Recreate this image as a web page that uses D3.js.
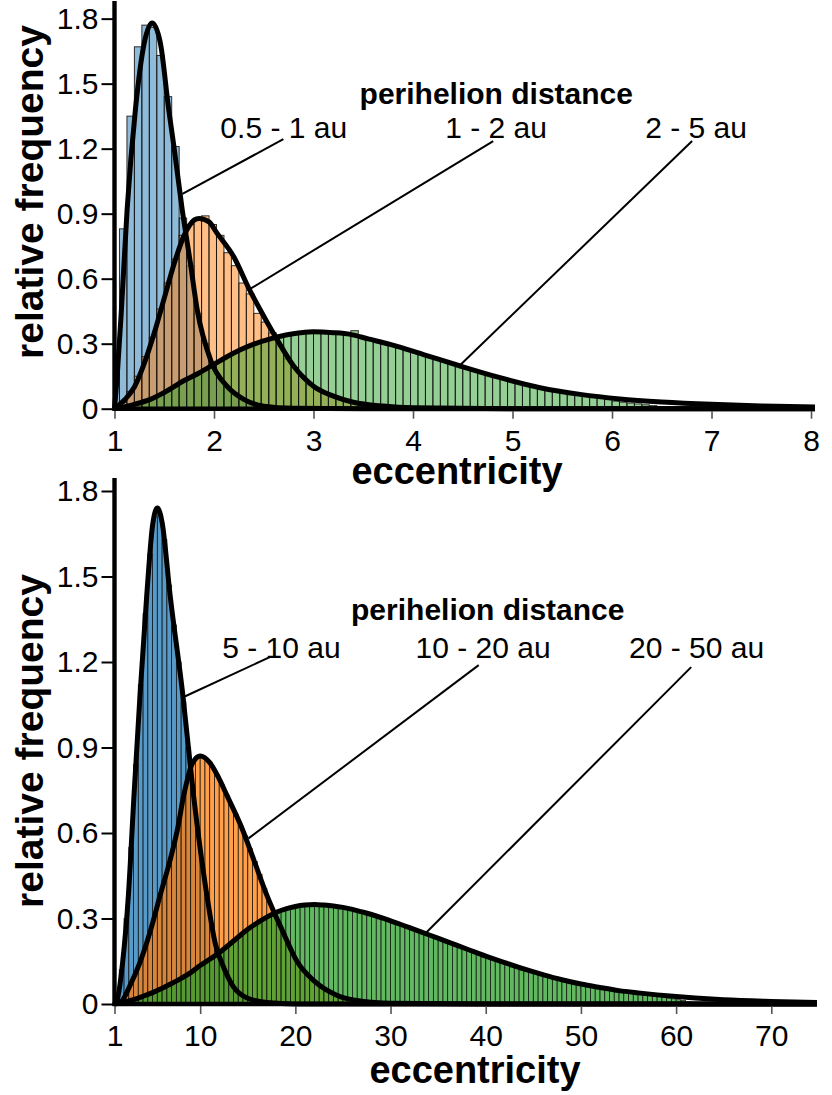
<!DOCTYPE html>
<html>
<head>
<meta charset="utf-8">
<script src="https://cdn.jsdelivr.net/npm/d3@7"></script>
<style>
body { margin: 0; background: #fff; }
text { font-family: "Liberation Sans", Arial, sans-serif; }
</style>
</head>
<body>
<div id="root"></div>
<script>
// ---- data ----
var ticksY = [0, 0.3, 0.6, 0.9, 1.2, 1.5, 1.8];
var topTicksX = [1, 2, 3, 4, 5, 6, 7, 8];
var botTicksX = [1, 10, 20, 30, 40, 50, 60, 70];

var topRanges = ["0.5 - 1 au", "1 - 2 au", "2 - 5 au"];
var botRanges = ["5 - 10 au", "10 - 20 au", "20 - 50 au"];

// top histogram: bins of 0.075 starting at 0.975
var topBinStart = 0.975, topBinWidth = 0.075;
var topBlueBins = [0.25, 0.83, 1.35, 1.67, 1.77, 1.76, 1.63, 1.44, 1.21, 0.88, 0.66, 0.44, 0.30, 0.20,
    0.14, 0.10, 0.07, 0.045, 0.03, 0.02, 0.01, 0.006];
var topOrangeBins = [0.005, 0.03, 0.08, 0.15, 0.24, 0.33, 0.46, 0.58, 0.69, 0.80, 0.85, 0.88, 0.89, 0.85,
    0.80, 0.72, 0.66, 0.58, 0.53, 0.44, 0.40, 0.35, 0.29, 0.23, 0.19, 0.15, 0.11, 0.09, 0.07, 0.055,
    0.045, 0.035, 0.028, 0.022, 0.017, 0.013, 0.01, 0.008, 0.006, 0.005];
var topGreenBins = [0.002, 0.008, 0.015, 0.025, 0.035, 0.048, 0.065, 0.085, 0.105, 0.13, 0.148, 0.165,
    0.183, 0.20, 0.222, 0.24, 0.258, 0.276, 0.29, 0.303, 0.313, 0.322, 0.33, 0.338, 0.345, 0.35, 0.352,
    0.355, 0.353, 0.351, 0.348, 0.35, 0.36, 0.332, 0.322, 0.31, 0.30, 0.292, 0.28, 0.268, 0.262, 0.252,
    0.242, 0.23, 0.22, 0.21, 0.198, 0.188, 0.177, 0.167, 0.157, 0.148, 0.138, 0.128, 0.12, 0.111, 0.103,
    0.096, 0.088, 0.081, 0.074, 0.068, 0.062, 0.057, 0.052, 0.047, 0.042, 0.035, 0.03, 0.026, 0.022,
    0.018, 0.014, 0.01, 0.006];

// bottom histogram: bins of 0.5 starting at 1
var botBinStart = 1, botBinWidth = 0.5;
var botBlueBins = [0.01, 0.12, 0.30, 0.55, 0.84, 1.12, 1.37, 1.58, 1.71, 1.72, 1.63, 1.47, 1.33, 1.20,
    1.06, 0.90, 0.75, 0.62, 0.49, 0.37, 0.28, 0.20, 0.15, 0.11, 0.075, 0.05, 0.035, 0.022, 0.014, 0.009, 0.005];
var botOrangeBins = [0.002, 0.01, 0.04, 0.07, 0.11, 0.15, 0.20, 0.255, 0.31, 0.375, 0.435, 0.495, 0.555,
    0.635, 0.725, 0.80, 0.845, 0.865, 0.87, 0.855, 0.835, 0.805, 0.77, 0.735, 0.70, 0.665, 0.625, 0.59,
    0.545, 0.50, 0.455, 0.405, 0.36, 0.32, 0.285, 0.25, 0.21, 0.175, 0.145, 0.125, 0.105, 0.088, 0.075,
    0.062, 0.05, 0.04, 0.032, 0.026, 0.021, 0.017, 0.013, 0.01, 0.008, 0.006, 0.004, 0.003];
var botGreenBins = [0.002, 0.004, 0.008, 0.013, 0.018, 0.024, 0.030, 0.037, 0.044, 0.051, 0.059, 0.068,
    0.076, 0.085, 0.095, 0.105, 0.116, 0.129, 0.14, 0.151, 0.163, 0.174, 0.187, 0.20, 0.214, 0.228, 0.242,
    0.255, 0.268, 0.279, 0.29, 0.30, 0.309, 0.318, 0.325, 0.331, 0.336, 0.34, 0.343, 0.346, 0.348, 0.349,
    0.349, 0.348, 0.346, 0.345, 0.343, 0.34, 0.337, 0.334, 0.33, 0.325, 0.321, 0.316, 0.311, 0.306, 0.30,
    0.295, 0.289, 0.283, 0.277, 0.271, 0.265, 0.259, 0.253, 0.246, 0.24, 0.234, 0.228, 0.221, 0.215, 0.208,
    0.202, 0.196, 0.19, 0.183, 0.177, 0.171, 0.165, 0.159, 0.153, 0.148, 0.142, 0.137, 0.131, 0.126, 0.12,
    0.115, 0.11, 0.105, 0.10, 0.095, 0.091, 0.087, 0.083, 0.079, 0.075, 0.072, 0.068, 0.065, 0.062, 0.059,
    0.056, 0.053, 0.05, 0.048, 0.045, 0.043, 0.04, 0.038, 0.036, 0.033, 0.031, 0.029, 0.026, 0.024, 0.021,
    0.018, 0.015, 0.012, 0.008, 0.005];

// fitted curves [eccentricity, relative frequency]
var topBlueCurve = [[1, 0], [1.027, 0.15], [1.07, 0.46], [1.127, 0.92], [1.21, 1.38], [1.3, 1.69],
    [1.378, 1.78], [1.46, 1.69], [1.545, 1.38], [1.6, 1.2], [1.68, 0.92], [1.76, 0.68], [1.83, 0.46],
    [1.97, 0.22], [2.13, 0.104], [2.3, 0.043], [2.5, 0.012], [2.8, 0.002], [3.5, 0], [8.04, 0]];
var topOrangeCurve = [[1, 0], [1.1, 0.04], [1.2, 0.1], [1.3, 0.21], [1.4, 0.35], [1.5, 0.51], [1.6, 0.67],
    [1.7, 0.8], [1.8, 0.87], [1.85, 0.878], [1.95, 0.862], [2.03, 0.81], [2.2, 0.7], [2.35, 0.555],
    [2.5, 0.427], [2.633, 0.32], [2.8, 0.197], [3, 0.104], [3.2, 0.058], [3.4, 0.03], [3.7, 0.012],
    [4, 0.004], [5, 0], [8.04, 0]];
var topGreenCurve = [[1, 0], [1.2, 0.02], [1.36, 0.043], [1.5, 0.075], [1.7, 0.13], [1.85, 0.165],
    [2, 0.205], [2.13, 0.24], [2.265, 0.272], [2.4, 0.298], [2.566, 0.322], [2.867, 0.35], [3, 0.355],
    [3.2, 0.351], [3.37, 0.343], [3.55, 0.322], [3.77, 0.297], [4.105, 0.25], [4.474, 0.197],
    [4.875, 0.143], [5.277, 0.097], [5.68, 0.066], [6.08, 0.045], [6.5, 0.031], [7, 0.02], [7.5, 0.013],
    [8.04, 0.008]];

var botBlueCurve = [[1, 0], [1.2, 0.005], [1.86, 0.148], [2.46, 0.382], [3.05, 0.733], [3.68, 1.084],
    [4.39, 1.435], [5, 1.68], [5.5, 1.74], [6, 1.69], [6.84, 1.435], [8.18, 1.084], [9.3, 0.733],
    [10.7, 0.382], [11.6, 0.21], [12.45, 0.13], [13.5, 0.06], [15, 0.02], [17, 0.005], [20, 0], [74.8, 0]];
var botOrangeCurve = [[1, 0], [1.75, 0.01], [2.7, 0.07], [3.7, 0.148], [4.8, 0.26], [5.8, 0.382],
    [6.8, 0.5], [7.72, 0.63], [8.2, 0.72], [8.6, 0.78], [9, 0.83], [9.5, 0.86], [10, 0.87], [11.05, 0.845],
    [12, 0.79], [12.8, 0.733], [14.4, 0.616], [15.7, 0.5], [17, 0.382], [18.6, 0.26], [20.2, 0.148],
    [22, 0.08], [24.4, 0.03], [27, 0.01], [30, 0.003], [40, 0], [74.8, 0]];
var botGreenCurve = [[1, 0], [2, 0.006], [3, 0.015], [4, 0.027], [5, 0.04], [6, 0.055], [7, 0.072],
    [8, 0.09], [9, 0.11], [10, 0.135], [11, 0.157], [12, 0.18], [13, 0.207], [14, 0.235], [15, 0.262],
    [16, 0.285], [17, 0.305], [18, 0.322], [19, 0.334], [20, 0.342], [21, 0.347], [22, 0.349], [23, 0.347],
    [24, 0.344], [25, 0.339], [26, 0.332], [27, 0.323], [28, 0.314], [30, 0.292], [32, 0.268], [34, 0.243],
    [36, 0.218], [38, 0.193], [40, 0.168], [42, 0.145], [44, 0.123], [46, 0.103], [48, 0.085], [50, 0.07],
    [52, 0.058], [54, 0.047], [56, 0.039], [58, 0.032], [60, 0.026], [62, 0.021], [65, 0.015], [70, 0.009],
    [74.8, 0.005]];

var colors = ["#1f77b4", "#ff7f0e", "#2ca02c"];

var svg = d3.select("#root")
    .append("svg")
    .attr("width", 832)
    .attr("height", 1095);

var panels = [
    {
        xDomain: [1, 8.04], xRange: [114.5, 815],
        yDomain: [0, 1.8814], yRange: [408.7, 1],
        ticksX: topTicksX, binStart: topBinStart, binWidth: topBinWidth,
        alpha: 0.5, edge: 1,
        bins: [topBlueBins, topOrangeBins, topGreenBins],
        curves: [topBlueCurve, topOrangeCurve, topGreenCurve],
        ranges: topRanges,
        // annotation anchors in data units
        header: [4.837, 1.408],
        labels: [[2.064, 1.247], [4.324, 1.247], [6.333, 1.247]],
        leaders: [[2.697, 1.244, 1.683, 0.991], [4.806, 1.235, 2.346, 0.548], [6.805, 1.235, 4.475, 0.202]],
        xTitle: [457, 484], yTitle: [43, 192]
    },
    {
        xDomain: [1, 74.8], xRange: [114.5, 817],
        yDomain: [0, 1.8456], yRange: [1004, 478],
        ticksX: botTicksX, binStart: botBinStart, binWidth: botBinWidth,
        alpha: 0.75, edge: 0.8,
        bins: [botBlueBins, botOrangeBins, botGreenBins],
        curves: [botBlueCurve, botOrangeCurve, botGreenCurve],
        ranges: botRanges,
        header: [40.21, 1.347],
        labels: [[12.32, 1.214], [32.63, 1.214], [55.05, 1.214]],
        leaders: [[17.37, 1.218, 8.32, 1.078], [39.26, 1.189, 15.08, 0.581], [61.58, 1.182, 33.68, 0.248]],
        xTitle: [475, 1083], yTitle: [43, 741]
    }
];

function drawPanel(p) {
    var x = d3.scaleLinear().domain(p.xDomain).range(p.xRange);
    var y = d3.scaleLinear().domain(p.yDomain).range(p.yRange);
    var g = svg.append("g");

    // histograms, blue under orange under green
    p.bins.forEach(function (bins, si) {
        g.append("g").selectAll("rect")
            .data(bins)
            .enter()
            .append("rect")
            .attr("x", function (d, i) {
                return x(Math.max(p.binStart + i * p.binWidth, p.xDomain[0]));
            })
            .attr("width", function (d, i) {
                return x(p.binStart + (i + 1) * p.binWidth) - x(Math.max(p.binStart + i * p.binWidth, p.xDomain[0]));
            })
            .attr("y", function (d) { return y(d); })
            .attr("height", function (d) { return y(0) - y(d); })
            .attr("fill", colors[si])
            .attr("fill-opacity", p.alpha)
            .attr("stroke", "#111")
            .attr("stroke-opacity", 0.85)
            .attr("stroke-width", p.edge);
    });

    var line = d3.line()
        .x(function (d) { return x(d[0]); })
        .y(function (d) { return y(d[1]); })
        .curve(d3.curveMonotoneX);

    p.curves.forEach(function (c) {
        g.append("path")
            .datum(c)
            .attr("d", line)
            .attr("fill", "none")
            .attr("stroke", "#000")
            .attr("stroke-width", 5)
            .attr("stroke-linejoin", "round");
    });

    // axes
    var ax = g.append("g")
        .attr("transform", "translate(0," + y(0) + ")")
        .call(d3.axisBottom(x).tickValues(p.ticksX).tickSize(10).tickSizeOuter(0).tickPadding(11)
            .tickFormat(function (d) { return String(d); }));
    ax.select(".domain").remove();
    ax.selectAll(".tick line").attr("stroke", "#555").attr("stroke-width", 1.6);
    ax.selectAll("text").attr("font-size", 30).attr("fill", "#000");

    var ay = g.append("g")
        .attr("transform", "translate(" + x(p.xDomain[0]) + ",0)")
        .call(d3.axisLeft(y).tickValues(ticksY).tickSize(13).tickSizeOuter(0).tickPadding(3)
            .tickFormat(function (d) { return String(d); }));
    ay.select(".domain").remove();
    ay.selectAll(".tick line").attr("stroke", "#000").attr("stroke-width", 2);
    ay.selectAll("text").attr("font-size", 30).attr("fill", "#000");

    g.append("line")
        .attr("x1", p.xRange[0] - 2).attr("x2", p.xRange[1])
        .attr("y1", y(0)).attr("y2", y(0))
        .attr("stroke", "#000").attr("stroke-width", 4.4);
    g.append("line")
        .attr("x1", x(p.xDomain[0])).attr("x2", x(p.xDomain[0]))
        .attr("y1", p.yRange[1]).attr("y2", y(0) + 2)
        .attr("stroke", "#000").attr("stroke-width", 4.4);

    // titles
    g.append("text")
        .attr("x", p.xTitle[0]).attr("y", p.xTitle[1])
        .attr("text-anchor", "middle")
        .attr("font-size", 38).attr("font-weight", "bold")
        .text("eccentricity");
    g.append("text")
        .attr("transform", "translate(" + p.yTitle[0] + "," + p.yTitle[1] + ") rotate(-90)")
        .attr("text-anchor", "middle")
        .attr("font-size", 39).attr("font-weight", "bold")
        .text("relative frequency");

    // annotations
    g.append("text")
        .attr("x", x(p.header[0])).attr("y", y(p.header[1]))
        .attr("text-anchor", "middle")
        .attr("font-size", 30).attr("font-weight", "bold")
        .text("perihelion distance");
    g.selectAll(".lbl")
        .data(p.ranges)
        .enter()
        .append("text")
        .attr("class", "lbl")
        .attr("x", function (d, i) { return x(p.labels[i][0]); })
        .attr("y", function (d, i) { return y(p.labels[i][1]); })
        .attr("font-size", 30)
        .text(function (d) { return d; });
    g.selectAll(".leader")
        .data(p.leaders)
        .enter()
        .append("line")
        .attr("class", "leader")
        .attr("x1", function (d) { return x(d[0]); })
        .attr("y1", function (d) { return y(d[1]); })
        .attr("x2", function (d) { return x(d[2]); })
        .attr("y2", function (d) { return y(d[3]); })
        .attr("stroke", "#000")
        .attr("stroke-width", 2);
}

panels.forEach(drawPanel);
</script>
</body>
</html>
